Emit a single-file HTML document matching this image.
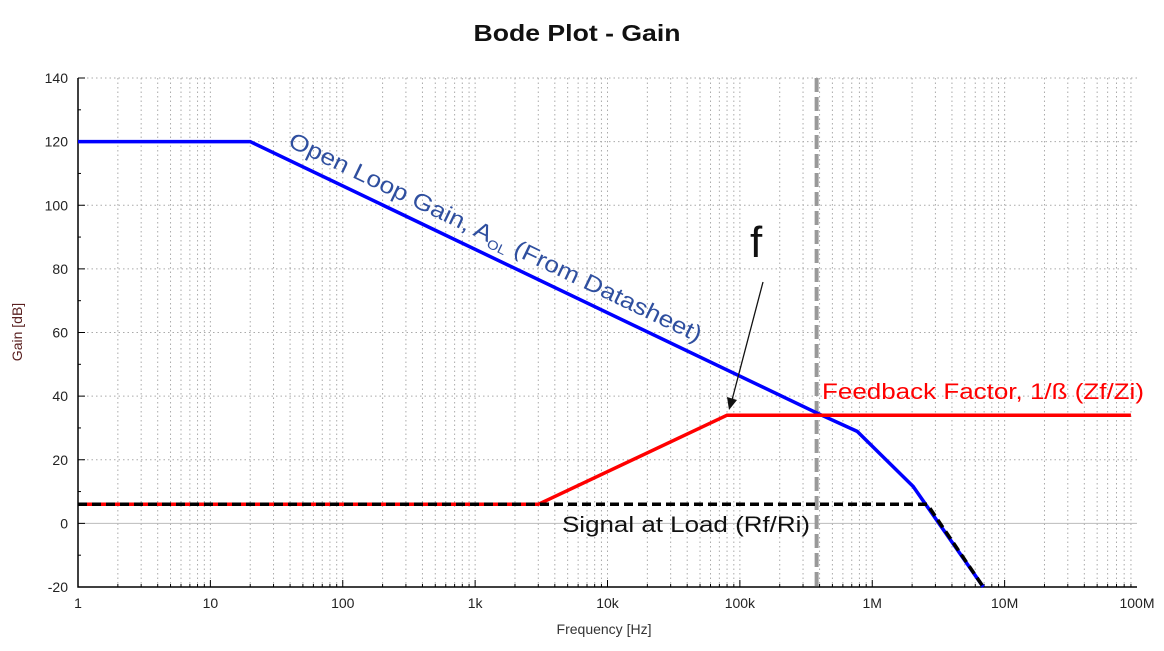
<!DOCTYPE html>
<html><head><meta charset="utf-8"><style>
html,body{margin:0;padding:0;background:#fff;width:1164px;height:651px;overflow:hidden}
svg{display:block;font-family:"Liberation Sans",sans-serif}
</style></head><body>
<svg id="chart" width="1164" height="651" viewBox="0 0 1164 651">
<text x="577" y="41" text-anchor="middle" font-size="23" font-weight="bold" fill="#111" textLength="207" lengthAdjust="spacingAndGlyphs">Bode Plot - Gain</text>
<g id="grid"></g>
<g id="axes"></g>
<g id="series"></g>
<text x="604" y="634" text-anchor="middle" font-size="14" fill="#333">Frequency [Hz]</text>
<text transform="translate(22,332) rotate(-90)" text-anchor="middle" font-size="14" fill="#5a2020">Gain [dB]</text>
<text transform="translate(287,146) rotate(25.6)" font-size="23" fill="#2f4f9f" textLength="455" lengthAdjust="spacingAndGlyphs">Open Loop Gain, A<tspan font-size="13" dy="5">OL</tspan><tspan dy="-5"> (From Datasheet)</tspan></text>
<text x="750" y="257" font-size="44" fill="#111">f</text>
<line x1="763" y1="282" x2="732" y2="400" stroke="#111" stroke-width="1.3"/>
<polygon points="729,410 727,397 737,400" fill="#111"/>
<text x="822" y="399" font-size="22" fill="#ff0000" textLength="322" lengthAdjust="spacingAndGlyphs">Feedback Factor, 1/ß (Zf/Zi)</text>
<text x="562" y="532" font-size="22" fill="#111" textLength="248" lengthAdjust="spacingAndGlyphs">Signal at Load (Rf/Ri)</text>
</svg>
<script>
const xTickLabels=["1","10","100","1k","10k","100k","1M","10M","100M"];
const yTickValues=[-20,0,20,40,60,80,100,120,140];
const aolFreq=[1,20,390000,770000,2040000,6900000];
const aolGain=[120,120,34.5,28.9,11.6,-20];
const fbFreq=[1,3000,80000,90000000];
const fbGain=[6,6,34,34];
const loadFreq=[1,2600000,6900000];
const loadGain=[6,6,-20];
const markerFreq=[380000];
const L=78,R=1137,T=78,B=587;
const X=f=>L+Math.log10(f)/8*(R-L);
const Y=v=>B-(v+20)/160*(B-T);
const NS="http://www.w3.org/2000/svg";
function mk(p,tag,a){const e=document.createElementNS(NS,tag);for(const k in a)e.setAttribute(k,a[k]);p.appendChild(e);return e;}
const grid=document.getElementById('grid'),axes=document.getElementById('axes'),ser=document.getElementById('series');
for(let d=0;d<8;d++)for(let m=1;m<=9;m++){const x=X(Math.pow(10,d)*m);if(d==0&&m==1)continue;
 const g=mk(grid,'line',{x1:x,x2:x,y1:T,y2:B,stroke:'#aaa','stroke-width':1,'stroke-dasharray':'1.5,3'});
 
 const t=mk(axes,'line',{x1:x,x2:x,y1:B,y2:B-(m==1?7:3),stroke:'#000'});
 }
yTickValues.forEach((v,i)=>{const y=Y(v);
 const g=mk(grid,'line',{x1:L,x2:R,y1:y,y2:y,stroke:v==0?'#bbb':'#aaa','stroke-width':1,'stroke-dasharray':v==0?'':'1.5,3'});
 
 const t=mk(axes,'line',{x1:L,x2:L+7,y1:y,y2:y,stroke:'#000'});
 
 if(i<yTickValues.length-1){const ym=Y(v+10);const t2=mk(axes,'line',{x1:L,x2:L+3,y1:ym,y2:ym,stroke:'#000'});
 }
 const l=mk(axes,'text',{x:68,y:y+5,'text-anchor':'end','font-size':14,fill:'#222'});l.textContent=v;
 });
xTickLabels.forEach((s,i)=>{const l=mk(axes,'text',{x:X(Math.pow(10,i)),y:608,'text-anchor':'middle','font-size':14,fill:'#222'});l.textContent=s;
 });
const ax=mk(axes,'path',{d:`M${L},${T}V${B}H${R}`,stroke:'#000','stroke-width':1.5,fill:'none'});

function pts(fs,gs){return fs.map((f,i)=>X(f).toFixed(1)+','+Y(gs[i]).toFixed(1)).join(' ');}
const vm=mk(ser,'line',{x1:X(markerFreq[0]),x2:X(markerFreq[0]),y1:T,y2:B,stroke:'#999','stroke-width':4,'stroke-dasharray':'14,5'});

const a=mk(ser,'polyline',{points:pts(aolFreq,aolGain),stroke:'#0000ff','stroke-width':3.5,fill:'none'});

const fb=mk(ser,'polyline',{points:pts(fbFreq,fbGain),stroke:'#ff0000','stroke-width':3.5,fill:'none'});

const ld=mk(ser,'polyline',{points:pts(loadFreq,loadGain),stroke:'#000','stroke-width':3.5,fill:'none','stroke-dasharray':'9,5'});

</script>
</body></html>
